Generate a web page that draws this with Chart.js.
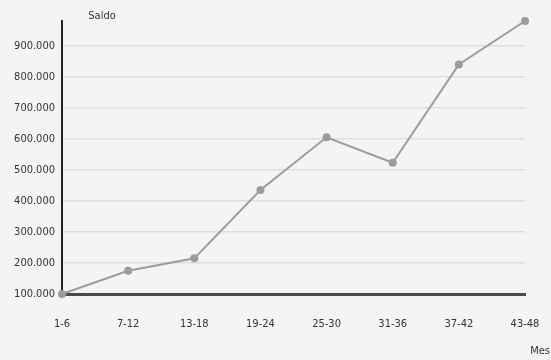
<!DOCTYPE html>
<html>
<head>
<meta charset="utf-8">
<script src="https://cdn.jsdelivr.net/npm/chart.js@4"></script>
<style>
  html, body { margin: 0; padding: 0; background: #f4f4f4; }
  #wrap { width: 551px; height: 360px; position: relative; }
</style>
</head>
<body>
<div id="wrap"><canvas id="chart"></canvas></div>
<script>
// Data
const meses = ['1-6', '7-12', '13-18', '19-24', '25-30', '31-36', '37-42', '43-48'];
const saldo = [100000, 175000, 215000, 435000, 605000, 523000, 840000, 980000];
const yTicks = [100000, 200000, 300000, 400000, 500000, 600000, 700000, 800000, 900000];
const yMin = 100000;
const yMax = 980000;

// Axis titles: "Saldo" above the y axis, "Mes" at bottom right
const axisTitles = {
    id: 'axisTitles',
    afterDraw(chart) {
        const ctx = chart.ctx;
        ctx.save();
        ctx.fillStyle = '#333';
        ctx.font = '11px "DejaVu Sans Condensed", "DejaVu Sans", sans-serif';
        ctx.textBaseline = 'middle';
        ctx.textAlign = 'center';
        ctx.fillText('Saldo', 102, 16);
        ctx.textAlign = 'right';
        ctx.fillText('Mes', 550, 351);
        ctx.restore();
    }
};

const ctx = document.getElementById('chart').getContext('2d');
new Chart(ctx, {
    type: 'line',
    data: {
        labels: meses,
        datasets: [{
            data: saldo,
            borderColor: '#9c9c9c',
            backgroundColor: '#9c9c9c',
            borderWidth: 2,
            pointRadius: 4,
            pointBorderWidth: 0,
            tension: 0,
            clip: false
        }]
    },
    options: {
        responsive: true,
        maintainAspectRatio: false,
        animation: false,
        layout: { padding: { top: 21, right: 26, left: 0, bottom: 0 } },
        plugins: {
            legend: { display: false },
            tooltip: { enabled: false }
        },
        scales: {
            x: {
                offset: false,
                afterFit: scale => { scale.height = 66; },
                // invisible tick marks push the labels down without adding side padding
                grid: { display: false, drawTicks: true, tickLength: 22 },
                border: { display: true, color: '#4a4a4a', width: 3 },
                ticks: {
                    padding: 2,
                    color: '#333',
                    maxRotation: 0,
                    font: { family: '"DejaVu Sans Condensed", "DejaVu Sans", sans-serif', size: 11 }
                }
            },
            y: {
                min: yMin,
                max: yMax,
                afterFit: scale => { scale.width = 62; },
                afterBuildTicks: scale => {
                    scale.ticks = yTicks.map(v => ({ value: v }));
                },
                grid: { color: '#dedede', lineWidth: 1.5, drawTicks: false },
                border: { display: true, color: '#222', width: 2 },
                ticks: {
                    padding: 7,
                    color: '#333',
                    font: { family: '"DejaVu Sans Condensed", "DejaVu Sans", sans-serif', size: 11 },
                    callback: v => v.toLocaleString('de-DE')
                }
            }
        }
    },
    plugins: [axisTitles]
});
</script>
</body>
</html>
